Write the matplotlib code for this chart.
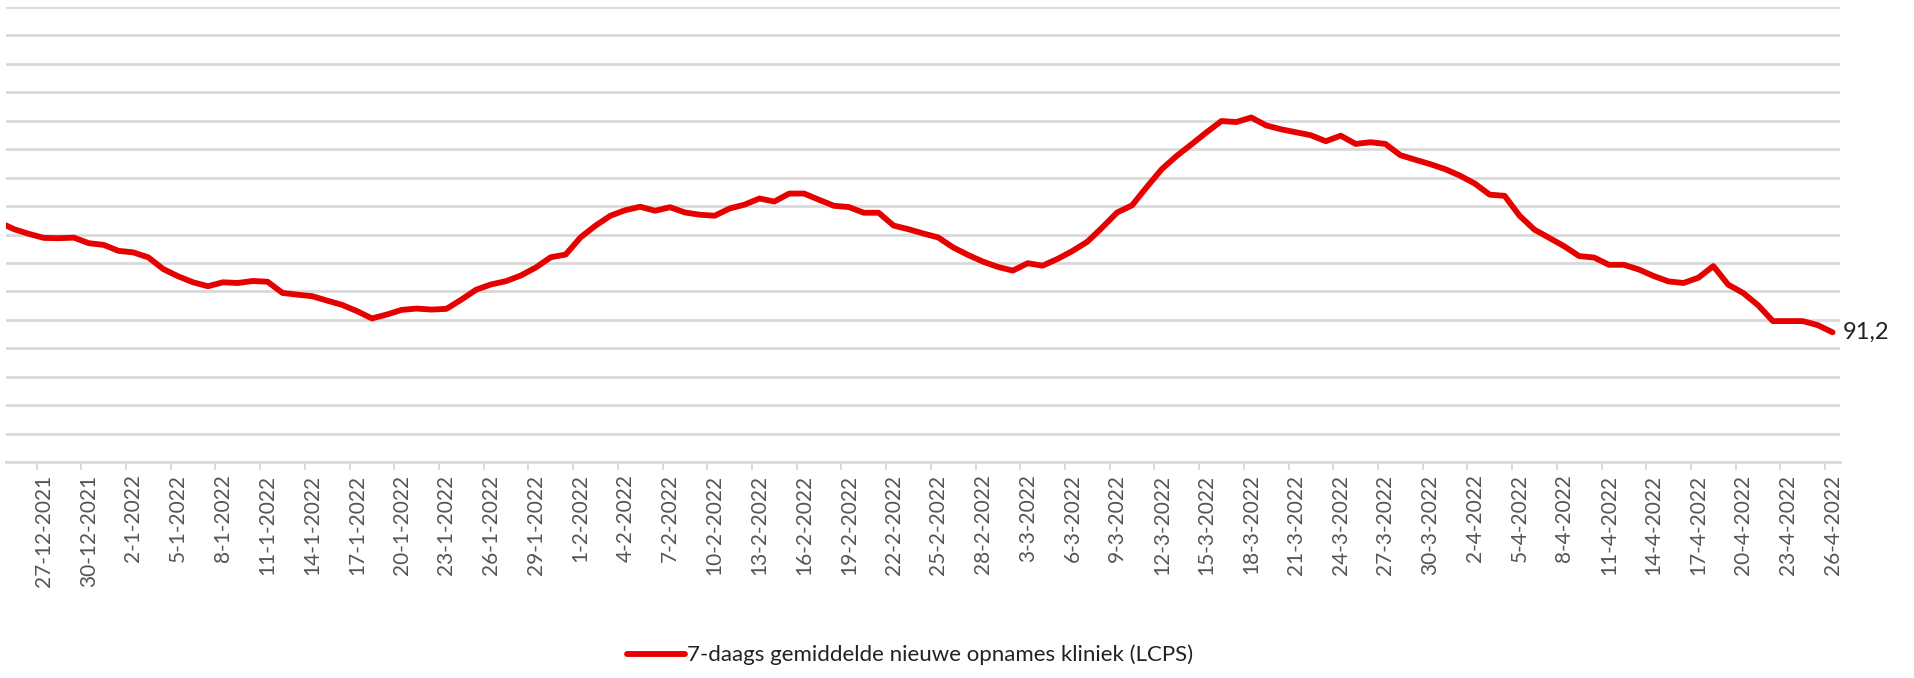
import numpy as np
import pandas as pd
import matplotlib
matplotlib.use("Agg")
import matplotlib.pyplot as plt

# 7-daags gemiddelde nieuwe opnames kliniek (LCPS), daily from 24-12-2021
start_date = "2021-12-24"
opnames = [
    168.5, 163.7, 160.4, 157.6, 157.4, 157.8, 153.9, 152.7, 148.5, 147.4,
    143.9, 135.7, 130.6, 126.4, 123.6, 126.4, 125.9, 127.3, 126.8, 118.9,
    117.7, 116.6, 113.5, 110.5, 106.1, 101.0, 103.7, 107.0, 107.9, 107.2,
    107.7, 114.2, 121.2, 124.9, 127.2, 131.2, 136.8, 144.0, 145.9, 158.0,
    166.2, 173.2, 177.1, 179.5, 176.7, 179.2, 175.5, 173.9, 173.2, 178.3,
    181.0, 185.3, 183.2, 188.8, 188.8, 184.4, 180.2, 179.3, 175.3, 175.3,
    166.3, 163.7, 160.7, 157.9, 150.9, 145.6, 140.9, 137.2, 134.6, 139.8,
    138.1, 142.8, 148.4, 154.9, 164.9, 175.5, 180.5, 193.5, 206.0, 215.3,
    223.5, 231.9, 239.8, 239.1, 242.3, 236.7, 234.0, 231.9, 229.8, 225.6,
    229.5, 223.7, 224.9, 223.7, 215.8, 212.6, 209.5, 206.0, 201.4, 195.8,
    188.0, 187.2, 173.2, 163.4, 157.6, 151.7, 144.8, 143.8, 138.7, 138.7,
    135.4, 130.8, 127.0, 125.9, 129.6, 137.8, 124.7, 118.9, 110.3, 99.1,
    99.1, 99.1, 96.3, 91.2,
]
legend_label = "7-daags gemiddelde nieuwe opnames kliniek (LCPS)"
last_label = "91,2"

dates = pd.date_range(start_date, periods=len(opnames), freq="D")
x = np.arange(len(opnames))
labels = [f"{d.day}-{d.month}-{d.year}" for d in dates]

plt.rcParams["font.family"] = ["Lato", "DejaVu Sans"]

fig = plt.figure(figsize=(19.14, 6.78), dpi=100)
ax = fig.add_axes([6 / 1914, 216 / 678, 1834 / 1914, 455 / 678])

grid_col = "#d9d9d9"
ax.set_ylim(0, 320)
ax.set_yticks(np.arange(0, 321, 20))
ax.yaxis.grid(True, color=grid_col, linewidth=2.0)
ax.set_axisbelow(True)
ax.tick_params(axis="y", left=False, labelleft=False)

line, = ax.plot(x, opnames, color="#e60000", linewidth=4.2,
                solid_joinstyle="round", solid_capstyle="round",
                label=legend_label)

ax.set_xlim(0.45, len(opnames) - 0.5)
# labels every 3 days, tick marks between categories
ax.set_xticks(x[3::3])
ax.set_xticklabels(labels[3::3], rotation=90, color="#555555", fontsize=15)
ax.tick_params(axis="x", length=0, pad=9)
ax.set_xticks(x[3::3] - 0.5, minor=True)
ax.tick_params(axis="x", which="minor", length=6, width=1.4, color=grid_col)

for s in ["top", "left", "right"]:
    ax.spines[s].set_visible(False)
ax.spines["bottom"].set_color(grid_col)
ax.spines["bottom"].set_linewidth(2.0)

ax.annotate(last_label, xy=(x[-1], opnames[-1]), xytext=(7, 0),
            textcoords="offset points", va="center", ha="left",
            fontsize=17, color="#222222", annotation_clip=False)

fig.legend(handles=[line], loc="center", bbox_to_anchor=(910 / 1914, 1 - 655 / 678),
           frameon=False, fontsize=16, handlelength=2.6, handletextpad=0.1,
           labelcolor="#222222")

fig.savefig("out.png", dpi=100, facecolor="white")
